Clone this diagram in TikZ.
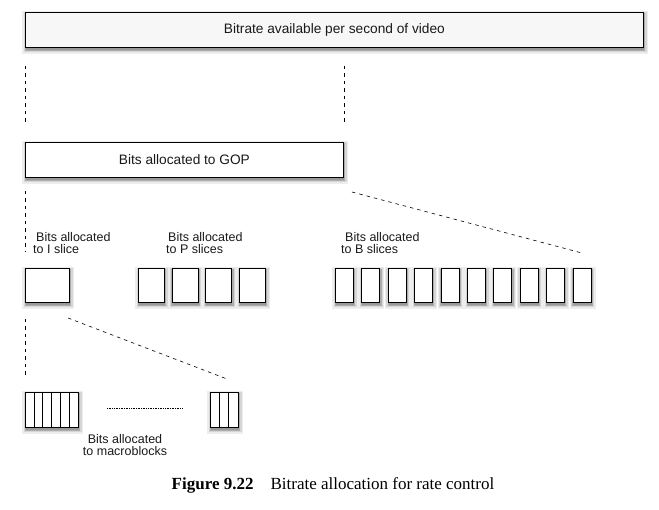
\documentclass[tikz,border=0pt]{standalone}
\usepackage{fontspec}
\setmainfont{Liberation Sans}
\newfontfamily\capfont{Liberation Serif}
\newcommand\dropshade[4]{% x, y, width, height of the box
  \draw[black!7,  line width=8pt] (#1+1,#2+2.5) rectangle (#1+#3+1,#2+#4+2.5);
  \draw[black!16, line width=5pt] (#1+1,#2+2.5) rectangle (#1+#3+1,#2+#4+2.5);
  \draw[black!32, line width=2.5pt] (#1+1,#2+2.5) rectangle (#1+#3+1,#2+#4+2.5);
  \fill[black!40] (#1+1,#2+2.5) rectangle (#1+#3+1,#2+#4+2.5);
}
\begin{document}
\begin{tikzpicture}[x=1pt,y=-1pt,
  box/.style={draw=black, line width=0.8pt, fill=white, inner sep=0pt, anchor=north west},
  bigtext/.style={font=\fontsize{13.7}{16}\selectfont, text=black!90},
  lbl/.style={inner sep=0pt, anchor=north west, align=left, text=black!90, font=\fontsize{12.5}{12}\selectfont},
  guide/.style={draw=black, line width=0.6pt, dash pattern=on 3.5pt off 4pt},
  dotline/.style={draw=black, line width=0.5pt, dash pattern=on 0.8pt off 0.9pt},
  cell/.style={draw=black, line width=0.6pt}]
\useasboundingbox (0,0) rectangle (659,509);

% soft drop shadows (drawn first, behind the boxes)
\dropshade{25}{12}{618}{35}
\dropshade{25}{142}{318}{35}
\dropshade{25}{268}{44}{34}
\foreach \i in {0,...,3} {\dropshade{138+33.7*\i}{268}{26}{34}}
\foreach \i in {0,...,9} {\dropshade{335+26.4*\i}{268}{18}{34}}
\dropshade{25}{392}{53}{35}
\dropshade{210}{392}{28}{35}

% top bar and GOP
\node[box, fill=black!3, minimum width=618pt, minimum height=35pt, bigtext] (rate) at (25,12) {Bitrate available per second of video};
\node[box, minimum width=318pt, minimum height=35pt, bigtext] (gop) at (25,142) {Bits allocated to GOP};

% slices
\node[box, minimum width=44pt, minimum height=34pt] (islice) at (25,268) {};
\foreach \i in {0,...,3}
  \node[box, minimum width=26pt, minimum height=34pt] (p\i) at (138+33.7*\i,268) {};
\foreach \i in {0,...,9}
  \node[box, minimum width=18pt, minimum height=34pt] (b\i) at (335+26.4*\i,268) {};

% labels
\node[lbl] (ilbl) at (33,232) {\hspace*{3pt}Bits allocated\\to I slice};
\node[lbl] (plbl) at (166,232) {\hspace*{2pt}Bits allocated\\to P slices};
\node[lbl] (blbl) at (341,232) {\hspace*{4pt}Bits allocated\\to B slices};

% macroblocks
\node[box, minimum width=53pt, minimum height=35pt] (mb1) at (25,392) {};
\foreach \k in {1,...,5}
  \draw[cell] (25+8.833*\k,392) -- (25+8.833*\k,427);
\node[box, minimum width=28pt, minimum height=35pt] (mb2) at (210,392) {};
\foreach \k in {1,2}
  \draw[cell] (210+9.333*\k,392) -- (210+9.333*\k,427);
\coordinate (dotA) at (107,408);
\coordinate (dotB) at (182,408);
\draw[dotline] (dotA) -- (dotB);
\node[lbl, anchor=north, align=center] (mlbl) at (125,434) {Bits allocated\\to macroblocks};

% dashed guides
\draw[guide, shorten <=18pt, shorten >=18pt] (rate.south west) -- (gop.north west);
\draw[guide, shorten <=18pt, shorten >=18pt] (gop.north east |- rate.south) -- (gop.north east);
\draw[guide, shorten <=13pt, shorten >=16pt] (gop.south west) -- (islice.north west);
\draw[guide, shorten <=16pt, shorten >=15pt] (islice.south west) -- (mb1.north west);
\coordinate (gd1) at (352,192);
\coordinate (gd2) at (582,253);
\draw[guide] (gd1) -- (gd2);
\coordinate (id1) at (68,318);
\coordinate (id2) at (227,379);
\draw[guide] (id1) -- (id2);

% caption
\node[anchor=base, inner sep=0pt, font=\capfont\fontsize{17}{20}\selectfont] (cap) at (333,489)
  {\textbf{Figure 9.22}\quad Bitrate allocation for rate control};
\end{tikzpicture}
\end{document}
